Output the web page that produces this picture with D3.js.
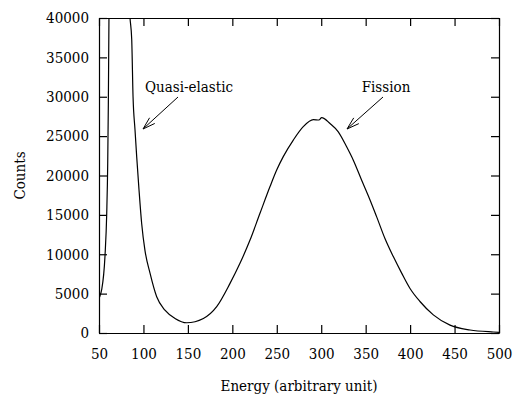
<!DOCTYPE html>
<html>
<head>
<meta charset="utf-8">
<script src="https://cdn.jsdelivr.net/npm/d3@7"></script>
<style>
  body { margin: 0; background: #fff; }
  svg { display: block; }
  text { font-family: "DejaVu Serif Condensed", "DejaVu Serif", serif !important; font-stretch: condensed; font-size: 15px; fill: #000; }
  .axis line, .axis path { stroke: #000; stroke-width: 1.2px; }
</style>
</head>
<body>
<div id="chart"></div>
<script>
// spectrum (energy, counts)
var energy = [50, 51.1, 53, 56.7, 58.7, 59.8, 60.5, 61.2, 63, 72, 80, 84.9, 86.8, 88.3, 90.5,
  92.4, 95, 98, 101.7, 107.4, 114.9, 124.2, 135.5, 148.7, 167.4, 182.4, 197.4, 208.6, 219.9,
  231.1, 242.4, 249.9, 257.3, 268.6, 279.8, 291.1, 297.4, 300.5, 309.9, 319.2, 328.6, 336.1,
  345.5, 354.9, 362.4, 371.7, 381.1, 390.5, 399.9, 411.1, 426.1, 444.9, 467.4, 493.6, 500];
var counts = [4400, 4700, 5500, 9700, 15200, 21500, 29000, 40000, 52000, 60000, 52000, 40000, 37300, 30000, 25800,
  22400, 18200, 13900, 10500, 7600, 4600, 2900, 1850, 1300, 1850, 3350, 6300, 8850, 11800,
  15200, 18600, 20700, 22400, 24500, 26200, 27100, 27050, 27350, 26600, 25550, 23650, 21950,
  19400, 16900, 14750, 12000, 9700, 7600, 5650, 4000, 2300, 1000, 380, 130, 90];

var xTicks = [50, 100, 150, 200, 250, 300, 350, 400, 450, 500];
var yTicks = [0, 5000, 10000, 15000, 20000, 25000, 30000, 35000, 40000];

var labels = [
  { text: "Quasi-elastic", tx: 189, ty: 92, x1: 178, y1: 97, x2: 143, y2: 129 },
  { text: "Fission", tx: 386, ty: 92, x1: 383, y1: 97, x2: 347, y2: 129 }
];

var W = 515, H = 394;
var margin = { left: 99, right: 16, top: 18, bottom: 61 };
var w = W - margin.left - margin.right, h = H - margin.top - margin.bottom;

var svg = d3.select("#chart").append("svg").attr("width", W).attr("height", H);
var g = svg.append("g").attr("transform", "translate(" + margin.left + "," + margin.top + ")");

var x = d3.scaleLinear().domain([50, 500]).range([0, w]);
var y = d3.scaleLinear().domain([0, 40000]).range([h, 0]);

g.append("clipPath").attr("id", "clip")
  .append("rect").attr("width", w).attr("height", h);

var data = energy.map(function(e, i) { return [e, counts[i]]; });

var line = d3.line()
  .x(function(d) { return x(d[0]); })
  .y(function(d) { return y(d[1]); })
  .curve(d3.curveMonotoneX);

g.append("path")
  .datum(data)
  .attr("clip-path", "url(#clip)")
  .attr("fill", "none")
  .attr("stroke", "#000")
  .attr("stroke-width", 1.2)
  .attr("d", line);

// axes, ticks pointing inward
g.append("g").attr("class", "axis")
  .attr("transform", "translate(0," + h + ")")
  .call(d3.axisBottom(x).tickValues(xTicks).tickSizeInner(-8).tickSizeOuter(0).tickPadding(15).tickFormat(d3.format("d")));
g.append("g").attr("class", "axis")
  .call(d3.axisTop(x).tickValues(xTicks).tickSizeInner(-8).tickSizeOuter(0).tickFormat(""));
g.append("g").attr("class", "axis")
  .call(d3.axisLeft(y).tickValues(yTicks).tickSizeInner(-8).tickSizeOuter(0).tickPadding(10).tickFormat(d3.format("d")));
g.append("g").attr("class", "axis")
  .attr("transform", "translate(" + w + ",0)")
  .call(d3.axisRight(y).tickValues(yTicks).tickSizeInner(-8).tickSizeOuter(0).tickFormat(""));

svg.append("text")
  .attr("x", margin.left + w / 2).attr("y", 391)
  .attr("text-anchor", "middle")
  .text("Energy (arbitrary unit)");

svg.append("text")
  .attr("transform", "translate(25," + (margin.top + h / 2) + ") rotate(-90)")
  .attr("text-anchor", "middle")
  .text("Counts");

// annotations with open arrowheads
labels.forEach(function(l) {
  svg.append("text")
    .attr("x", l.tx).attr("y", l.ty)
    .attr("text-anchor", "middle")
    .text(l.text);
  svg.append("line")
    .attr("x1", l.x1).attr("y1", l.y1).attr("x2", l.x2).attr("y2", l.y2)
    .attr("stroke", "#000").attr("stroke-width", 1);
  var ang = Math.atan2(l.y1 - l.y2, l.x1 - l.x2), len = 13, spread = 0.3;
  [ang - spread, ang + spread].forEach(function(a) {
    svg.append("line")
      .attr("x1", l.x2).attr("y1", l.y2)
      .attr("x2", l.x2 + len * Math.cos(a)).attr("y2", l.y2 + len * Math.sin(a))
      .attr("stroke", "#000").attr("stroke-width", 1);
  });
});
</script>
</body>
</html>
